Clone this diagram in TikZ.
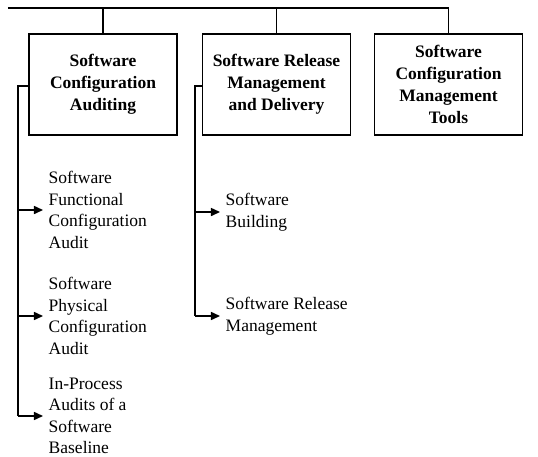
\documentclass[tikz,border=0pt]{standalone}
\usepackage{fontspec}
\setmainfont{Liberation Serif}
\usetikzlibrary{positioning, arrows.meta}

\begin{document}
\begin{tikzpicture}[x=0.5pt,y=-0.5pt,line width=0.75pt,
    topic/.style={draw, minimum width=74pt, minimum height=50.5pt, align=center,
        font=\fontsize{8.75}{11}\selectfont\bfseries},
    item/.style={anchor=west, align=left, inner xsep=2.5pt, inner ysep=0pt,
        font=\fontsize{8.75}{10.75}\selectfont},
    feed/.style={-{Triangle[length=4.5pt,width=4pt]}}]
       \useasboundingbox (0,0) rectangle (538,457);
       % main areas
       \node[topic] (sca) at (103,84.5) {Software\\Configuration\\Auditing};
       \node[topic] (srm) at (276.5,84.5) {Software Release\\Management\\and Delivery};
       \node[topic] (scm) at (448.5,84.5) {Software\\Configuration\\Management\\Tools};
       % sub topics
       \node[item] (sfca) at (43,210) {Software\\Functional\\Configuration\\Audit};
       \node[item] (spca) at (43,316) {Software\\Physical\\Configuration\\Audit};
       \node[item] (ipa) at (43,416) {In-Process\\Audits of a\\Software\\Baseline};
       \node[item] (sb) at (220,212) {Software\\Building};
       \node[item] (srmg) at (220,316) {Software Release\\Management};
       % top bar
       \coordinate (rootL) at (8,8);
       \coordinate (rootR) at (scm.north |- rootL);
       \draw (rootL) -- (rootR) -- (scm.north);
       \draw (sca.north) -- (sca.north |- rootL);
       \draw (srm.north) -- (srm.north |- rootL);
       % branches
       \coordinate (scaBus) at (18,86);
       \coordinate (srmBus) at (195,86);
       \draw (sca.west |- scaBus) -- (scaBus) -- (scaBus |- ipa.west);
       \draw (srm.west |- srmBus) -- (srmBus) -- (srmBus |- srmg.west);
       \draw[feed] (scaBus |- sfca.west) -- (sfca.west);
       \draw[feed] (scaBus |- spca.west) -- (spca.west);
       \draw[feed] (scaBus |- ipa.west) -- (ipa.west);
       \draw[feed] (srmBus |- sb.west) -- (sb.west);
       \draw[feed] (srmBus |- srmg.west) -- (srmg.west);
\end{tikzpicture}
\end{document}
